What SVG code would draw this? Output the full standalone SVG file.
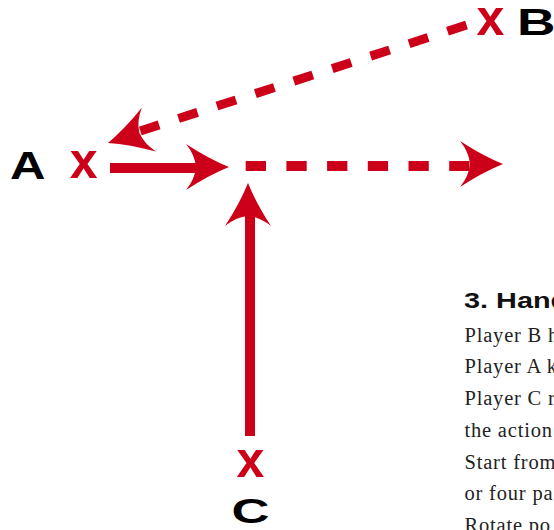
<svg xmlns="http://www.w3.org/2000/svg" xmlns:xlink="http://www.w3.org/1999/xlink" width="554" height="530" viewBox="0 0 554 530">
<style>
.lbl{font-family:"Liberation Sans",Arial,sans-serif;font-weight:bold;fill:#000;}
.px{font-family:"Liberation Sans",Arial,sans-serif;font-weight:bold;fill:#cc0018;font-size:50px;text-anchor:middle;}
.ln{fill:none;stroke:#cc0018;stroke-width:10;}
.dash{stroke-dasharray:20.3 20.4;}
.hd{fill:#cc0018;}
.h3{font-family:"Liberation Sans",Arial,sans-serif;font-weight:bold;font-size:21.7px;fill:#111;}
.body{font-family:"Liberation Serif","Times New Roman",serif;font-size:20.5px;letter-spacing:0.8px;fill:#222;}
</style>
<defs>
<path id="head" d="M0,0 Q-20,-8 -43,-23 Q-34,-12 -33,0 Q-34,12 -43,23 Q-20,8 0,0 Z"/>
</defs>
<rect width="554" height="530" fill="#fff"/>
<g id="connectors">
<line class="ln" x1="110" y1="168" x2="200" y2="168"/>
<use href="#head" class="hd" transform="translate(229,167)"/>
<line class="ln dash" x1="245.7" y1="166" x2="470" y2="166"/>
<use href="#head" class="hd" transform="translate(503,164)"/>
<line class="ln" x1="250" y1="436" x2="250" y2="212"/>
<use href="#head" class="hd" transform="translate(248,183) rotate(-90)"/>
<line class="ln dash" style="stroke-width:9;stroke-dasharray:20 20.4" x1="466.5" y1="25" x2="140.3" y2="131"/>
<use href="#head" class="hd" transform="translate(108,143) rotate(162)"/>
</g>
<g id="nodeA">
<text class="lbl" x="10" y="178.5" font-size="39" textLength="35.5" lengthAdjust="spacingAndGlyphs">A</text>
<text class="px" x="83.7" y="178.3">x</text>
</g>
<g id="nodeB">
<text class="px" x="490.3" y="35">x</text>
<text class="lbl" x="517" y="35" font-size="36" textLength="38.5" lengthAdjust="spacingAndGlyphs">B</text>
</g>
<g id="nodeC">
<text class="px" x="250.5" y="476.7">x</text>
<text class="lbl" x="231.4" y="522.5" font-size="35" textLength="38" lengthAdjust="spacingAndGlyphs">C</text>
</g>
<g id="caption">
<text class="h3" transform="translate(464,308.3) scale(1.33,1)">3. Hand</text>
<text class="body" x="464.5" y="341.7">Player B h</text>
<text class="body" x="464.5" y="373.4">Player A k</text>
<text class="body" x="464.5" y="405.1">Player C r</text>
<text class="body" x="464.5" y="436.8">the action</text>
<text class="body" x="464.5" y="468.5">Start from</text>
<text class="body" x="464.5" y="500.2">or four pa</text>
<text class="body" x="464.5" y="531.9">Rotate po</text>
</g>
</svg>
